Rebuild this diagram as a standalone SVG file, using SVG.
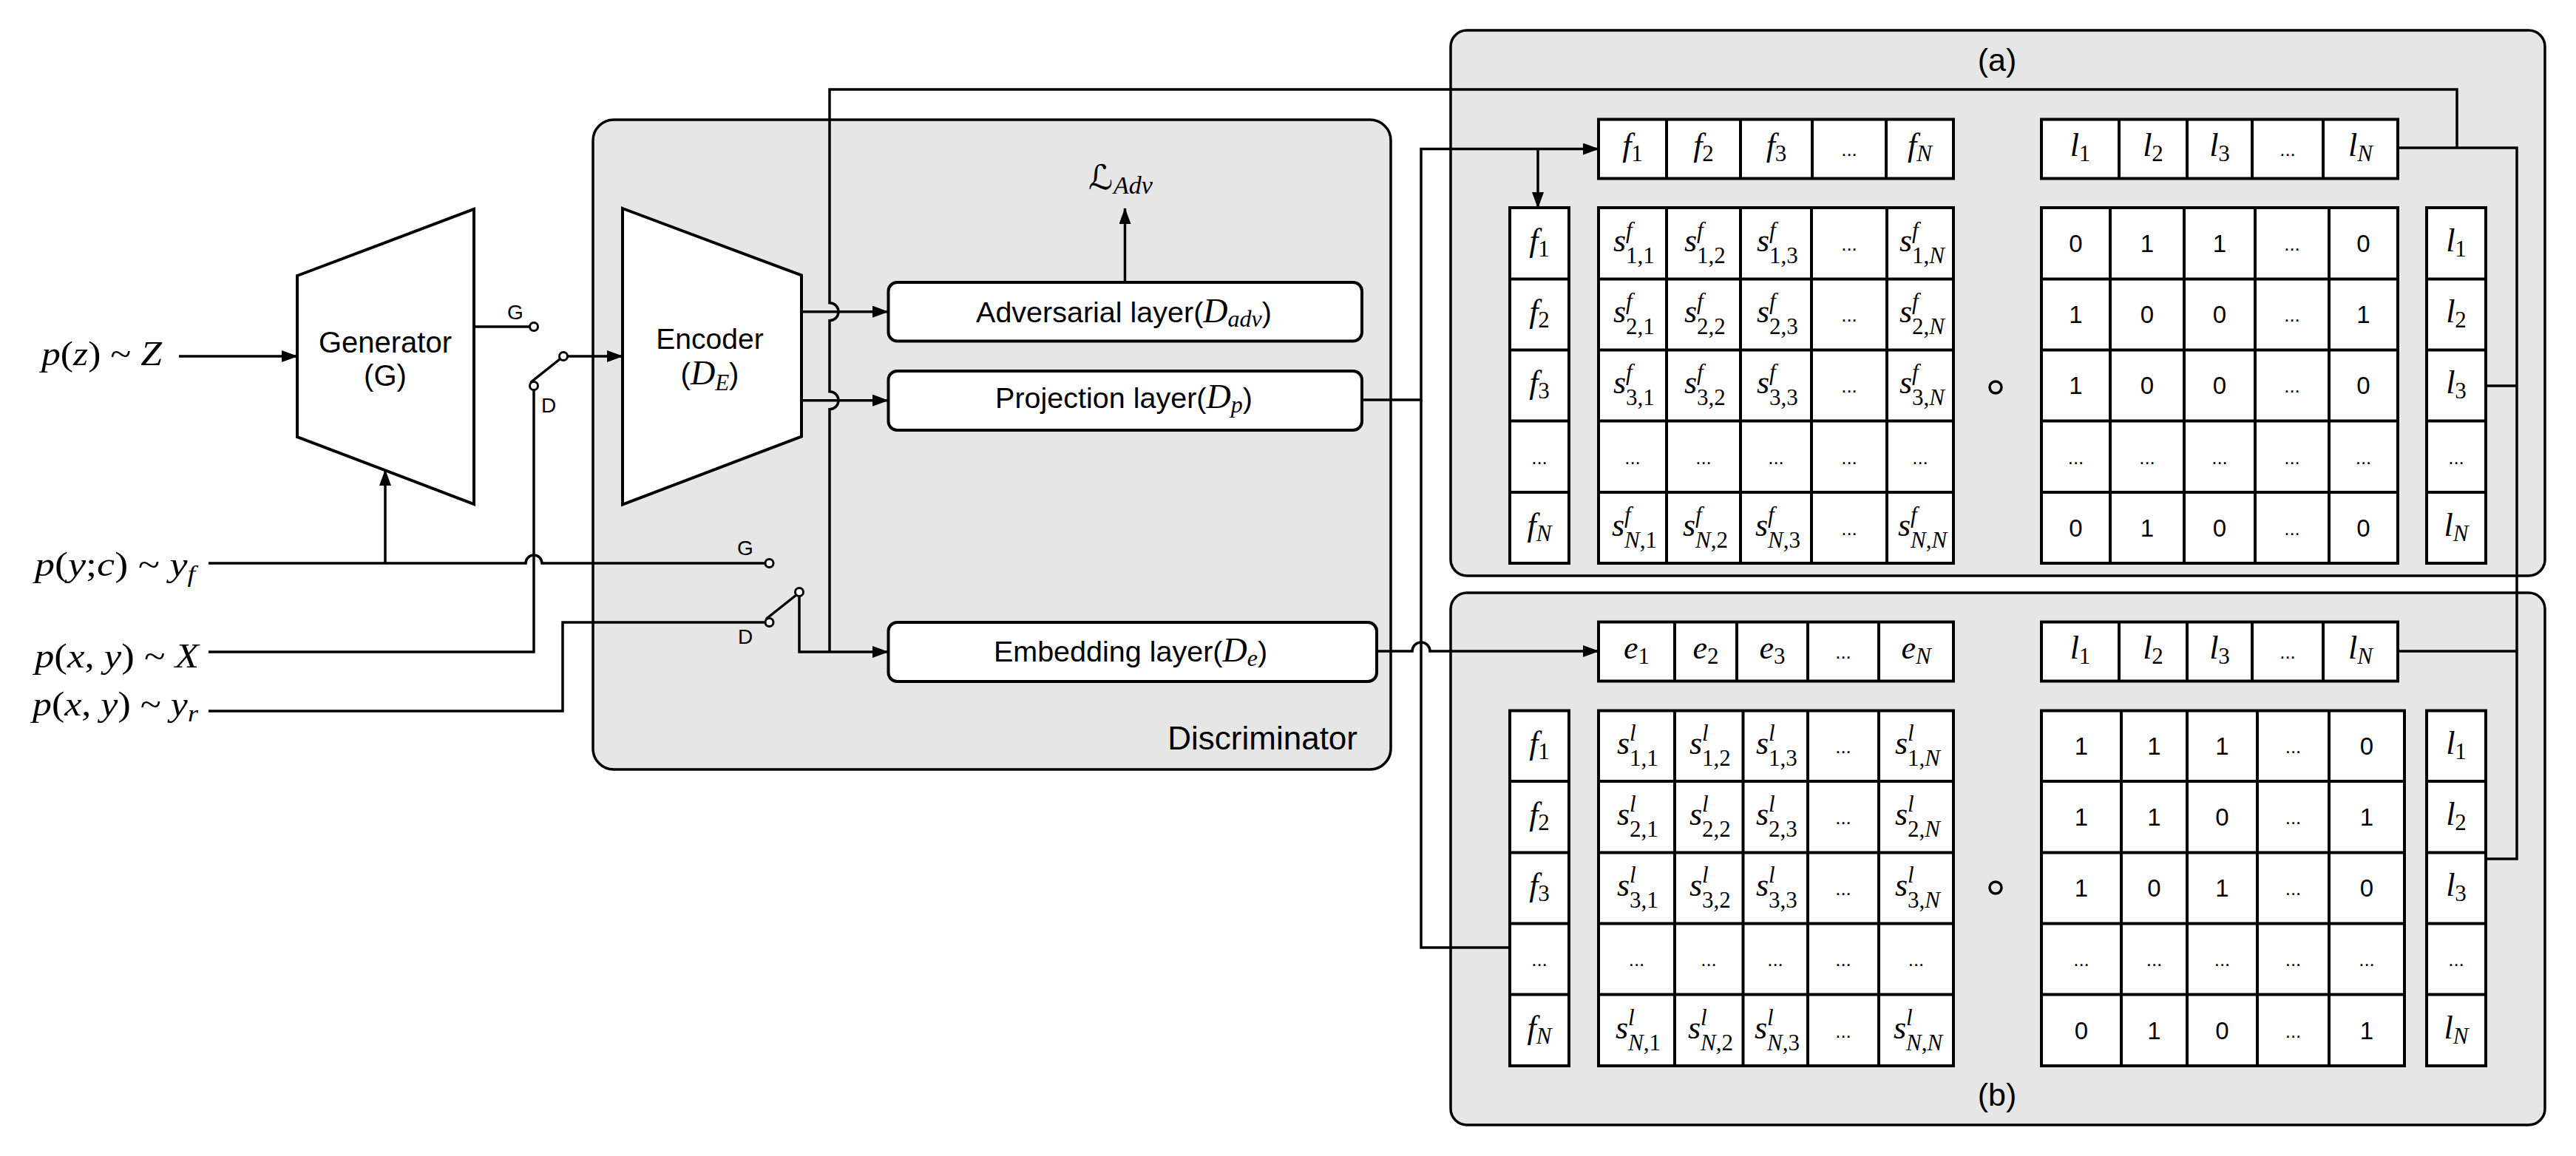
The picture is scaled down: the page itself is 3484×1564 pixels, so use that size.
<svg xmlns="http://www.w3.org/2000/svg" width="3484" height="1564" viewBox="0 0 3484 1564">
<defs>
<style>
.ln{fill:none;stroke:#000;stroke-width:3.5}
.ar{marker-end:url(#ah)}
.box{fill:#fff;stroke:#000;stroke-width:4}
.grid{fill:none;stroke:#000;stroke-width:4}
.panel{fill:#e6e6e6;stroke:#000;stroke-width:3.5}
.sw{fill:#fff;stroke:#000;stroke-width:3}
.sans{font-family:"Liberation Sans",Arial,Helvetica,sans-serif}
.cm{font-family:"Liberation Serif","DejaVu Serif",serif;font-style:italic}
.up{font-style:normal}
.c{font-size:44px}
.sb{font-size:31px}
.num{font-family:"Liberation Sans",Arial,sans-serif;font-size:33px;text-anchor:middle}
.dots{font-family:"Liberation Sans",Arial,sans-serif;font-size:26px;text-anchor:middle}
.mid{text-anchor:middle}
.lbl{font-family:"Liberation Sans",Arial,Helvetica,sans-serif;font-size:39.5px}
</style>
<marker id="ah" viewBox="0 0 22 16" markerWidth="22" markerHeight="16" refX="21" refY="8" orient="auto" markerUnits="userSpaceOnUse"><path d="M0,0 L22,8 L0,16 z" fill="#000"/></marker>
</defs>
<rect width="3484" height="1564" fill="#fff"/>

<!-- container panels -->
<g id="discriminator">
<rect class="panel" x="802" y="162" width="1079" height="879" rx="28"/>
<text class="sans" x="1836" y="1014" font-size="44" text-anchor="end">Discriminator</text>
</g>
<g id="panel-a">
<rect class="panel" x="1962" y="41" width="1480" height="738" rx="22"/>
<text class="sans mid" x="2701" y="96" font-size="43">(a)</text>
</g>
<g id="panel-b">
<rect class="panel" x="1962" y="802" width="1480" height="720" rx="22"/>
<text class="sans mid" x="2701" y="1496" font-size="43">(b)</text>
</g>

<!-- input labels -->
<g id="inputs" class="cm" font-size="46">
<text x="56" y="494" textLength="163" lengthAdjust="spacingAndGlyphs">p<tspan class="up">(</tspan>z<tspan class="up">) ~ </tspan>Z</text>
<text x="47" y="779" textLength="217" lengthAdjust="spacingAndGlyphs">p<tspan class="up">(</tspan>y<tspan class="up">;</tspan>c<tspan class="up">) ~ </tspan>y<tspan font-size="32" dy="8">f</tspan></text>
<text x="47" y="903" textLength="222" lengthAdjust="spacingAndGlyphs">p<tspan class="up">(</tspan>x<tspan class="up">, </tspan>y<tspan class="up">) ~ </tspan>X</text>
<text x="44" y="968" textLength="224" lengthAdjust="spacingAndGlyphs">p<tspan class="up">(</tspan>x<tspan class="up">, </tspan>y<tspan class="up">) ~ </tspan>y<tspan font-size="32" dy="8">r</tspan></text>
</g>

<!-- connectors -->
<g id="connectors">
<path class="ln ar" d="M242,482 H402"/>
<path class="ln" d="M282,762 H711 A11,11 0 0 1 733,762 H1035"/>
<path class="ln ar" d="M521,762 V636"/>
<path class="ln" d="M641,442 H716.5"/>
<path class="ln" d="M282,882 H722 V527.5"/>
<path class="ln" d="M717.5,517.5 L757,486"/>
<path class="ln ar" d="M767.5,482 H842"/>
<path class="ln" d="M282,962 H761 V842 H1035"/>
<path class="ln" d="M1036,837.5 L1077,805"/>
<path class="ln ar" d="M1081,806.5 V882 H1201"/>
<path class="ln" d="M1122,882 V553.7 A12,12 0 0 0 1122,529.7 V433.7 A12,12 0 0 0 1122,409.7 V121 H3323 V200"/>
<path class="ln ar" d="M1084,421.7 H1201"/>
<path class="ln ar" d="M1084,541.7 H1201"/>
<path class="ln ar" d="M1521.5,382 V282"/>
<path class="ln ar" d="M1842,541 H1922 V201.5 H2162"/>
<path class="ln ar" d="M2080,201.5 V281"/>
<path class="ln" d="M1922,541 V1282 H2042"/>
<path class="ln ar" d="M1862,881 H1910 A12,12 0 0 1 1934,881 H2162"/>
<path class="ln" d="M3243,200 H3404 V1162 H3362"/>
<path class="ln" d="M3362,522 H3404"/>
<path class="ln" d="M3243,881 H3404"/>
</g>

<!-- generator -->
<g id="generator">
<polygon class="box" points="402,373 641,283 641,682 402,591"/>
<text class="sans mid" x="521" y="477" font-size="40">Generator</text>
<text class="sans mid" x="521" y="522" font-size="40">(G)</text>
</g>

<!-- switch between generator output and real samples -->
<g id="switch-input">
<circle class="sw" cx="722" cy="442" r="5.5"/>
<circle class="sw" cx="722" cy="522" r="5.5"/>
<circle class="sw" cx="762" cy="482" r="5.5"/>
<text class="sans mid" x="697" y="432" font-size="28">G</text>
<text class="sans mid" x="742" y="558" font-size="28">D</text>
</g>

<!-- switch between fake and real labels -->
<g id="switch-label">
<circle class="sw" cx="1040.5" cy="762" r="5.5"/>
<circle class="sw" cx="1040.5" cy="842" r="5.5"/>
<circle class="sw" cx="1081" cy="801" r="5.5"/>
<text class="sans mid" x="1008" y="751" font-size="28">G</text>
<text class="sans mid" x="1008" y="871" font-size="28">D</text>
</g>

<!-- encoder -->
<g id="encoder">
<polygon class="box" points="842,282 1084,372.5 1084,590.6 842,682.5"/>
<text class="sans mid" x="960" y="472" font-size="39">Encoder</text>
<text class="mid" x="960" y="520"><tspan class="sans" font-size="40">(</tspan><tspan class="cm" font-size="46">D</tspan><tspan class="cm" font-size="31" dy="8">E</tspan><tspan class="sans" font-size="40" dy="-8">)</tspan></text>
</g>

<!-- discriminator heads -->
<g id="adversarial-layer">
<rect class="box" x="1201.5" y="382" width="640.5" height="79.5" rx="12"/>
<text class="mid" x="1520" y="436"><tspan class="lbl">Adversarial layer(</tspan><tspan class="cm" font-size="46">D</tspan><tspan class="cm" font-size="32" dy="6">adv</tspan><tspan class="lbl" dy="-6">)</tspan></text>
</g>
<g id="loss">
<text y="256"><tspan x="1472" font-size="46" font-family="DejaVu Serif, DejaVu Sans, serif" font-style="italic">ℒ</tspan><tspan class="cm" x="1506" font-size="34" dy="6">Adv</tspan></text>
</g>
<g id="projection-layer">
<rect class="box" x="1201.5" y="502" width="640.5" height="80" rx="12"/>
<text class="mid" x="1520" y="552"><tspan class="lbl">Projection layer(</tspan><tspan class="cm" font-size="46">D</tspan><tspan class="cm" font-size="32" dy="6">p</tspan><tspan class="lbl" dy="-6">)</tspan></text>
</g>
<g id="embedding-layer">
<rect class="box" x="1201.5" y="842" width="660.5" height="80" rx="12"/>
<text class="mid" x="1529" y="895"><tspan class="lbl">Embedding layer(</tspan><tspan class="cm" font-size="46">D</tspan><tspan class="cm" font-size="32" dy="6">e</tspan><tspan class="lbl" dy="-6">)</tspan></text>
</g>

<!-- (a) feature similarity -->
<g id="a-feature-row">
<rect class="box" x="2162" y="161.5" width="480" height="80"/>
<path class="grid" d="M2254,161.5V241.5M2354,161.5V241.5M2451,161.5V241.5M2551,161.5V241.5"/>
<g class="cm c mid">
<text x="2208" y="211">f<tspan class="sb up" dy="7">1</tspan></text>
<text x="2304" y="211">f<tspan class="sb up" dy="7">2</tspan></text>
<text x="2402.5" y="211">f<tspan class="sb up" dy="7">3</tspan></text>
<text x="2596.5" y="211">f<tspan class="sb" dy="7">N</tspan></text>
</g>
<text class="dots" x="2501" y="211">...</text>
</g>
<g id="a-label-row">
<rect class="box" x="2761" y="161.5" width="482" height="80"/>
<path class="grid" d="M2866,161.5V241.5M2958,161.5V241.5M3046,161.5V241.5M3142,161.5V241.5"/>
<g class="cm c mid">
<text x="2813.5" y="211">l<tspan class="sb up" dy="7">1</tspan></text>
<text x="2912" y="211">l<tspan class="sb up" dy="7">2</tspan></text>
<text x="3002" y="211">l<tspan class="sb up" dy="7">3</tspan></text>
<text x="3192.5" y="211">l<tspan class="sb" dy="7">N</tspan></text>
</g>
<text class="dots" x="3094" y="211">...</text>
</g>
<g id="a-feature-col">
<rect class="box" x="2042" y="281" width="80" height="481"/>
<path class="grid" d="M2042,377.5H2122M2042,473.5H2122M2042,569.5H2122M2042,666H2122"/>
<g class="cm c mid">
<text x="2082" y="340">f<tspan class="sb up" dy="7">1</tspan></text>
<text x="2082" y="436">f<tspan class="sb up" dy="7">2</tspan></text>
<text x="2082" y="532">f<tspan class="sb up" dy="7">3</tspan></text>
<text x="2082" y="725">f<tspan class="sb" dy="7">N</tspan></text>
</g>
<text class="dots" x="2082" y="628">...</text>
</g>
<g id="a-similarity">
<rect class="box" x="2162" y="281" width="480" height="481"/>
<path class="grid" d="M2254,281V762M2354,281V762M2450,281V762M2552,281V762M2162,377.5H2642M2162,473.5H2642M2162,569.5H2642M2162,666H2642"/>
<g class="cm c">
<text x="2182" y="340">s<tspan class="sb" x="2199" dy="-18">f</tspan><tspan class="sb up" x="2199" dy="34">1,1</tspan></text>
<text x="2278" y="340">s<tspan class="sb" x="2295" dy="-18">f</tspan><tspan class="sb up" x="2295" dy="34">1,2</tspan></text>
<text x="2376" y="340">s<tspan class="sb" x="2393" dy="-18">f</tspan><tspan class="sb up" x="2393" dy="34">1,3</tspan></text>
<text x="2569" y="340">s<tspan class="sb" x="2586" dy="-18">f</tspan><tspan class="sb" x="2586" dy="34"><tspan class="up">1,</tspan>N</tspan></text>
<text x="2182" y="436">s<tspan class="sb" x="2199" dy="-18">f</tspan><tspan class="sb up" x="2199" dy="34">2,1</tspan></text>
<text x="2278" y="436">s<tspan class="sb" x="2295" dy="-18">f</tspan><tspan class="sb up" x="2295" dy="34">2,2</tspan></text>
<text x="2376" y="436">s<tspan class="sb" x="2393" dy="-18">f</tspan><tspan class="sb up" x="2393" dy="34">2,3</tspan></text>
<text x="2569" y="436">s<tspan class="sb" x="2586" dy="-18">f</tspan><tspan class="sb" x="2586" dy="34"><tspan class="up">2,</tspan>N</tspan></text>
<text x="2182" y="532">s<tspan class="sb" x="2199" dy="-18">f</tspan><tspan class="sb up" x="2199" dy="34">3,1</tspan></text>
<text x="2278" y="532">s<tspan class="sb" x="2295" dy="-18">f</tspan><tspan class="sb up" x="2295" dy="34">3,2</tspan></text>
<text x="2376" y="532">s<tspan class="sb" x="2393" dy="-18">f</tspan><tspan class="sb up" x="2393" dy="34">3,3</tspan></text>
<text x="2569" y="532">s<tspan class="sb" x="2586" dy="-18">f</tspan><tspan class="sb" x="2586" dy="34"><tspan class="up">3,</tspan>N</tspan></text>
<text x="2180" y="725">s<tspan class="sb" x="2197" dy="-18">f</tspan><tspan class="sb" x="2197" dy="34">N<tspan class="up">,1</tspan></tspan></text>
<text x="2276" y="725">s<tspan class="sb" x="2293" dy="-18">f</tspan><tspan class="sb" x="2293" dy="34">N<tspan class="up">,2</tspan></tspan></text>
<text x="2374" y="725">s<tspan class="sb" x="2391" dy="-18">f</tspan><tspan class="sb" x="2391" dy="34">N<tspan class="up">,3</tspan></tspan></text>
<text x="2567" y="725">s<tspan class="sb" x="2584" dy="-18">f</tspan><tspan class="sb" x="2584" dy="34">N<tspan class="up">,</tspan>N</tspan></text>
</g>
<g class="dots">
<text x="2501" y="339">...</text><text x="2501" y="435">...</text><text x="2501" y="531">...</text><text x="2501" y="724">...</text>
<text x="2208" y="628">...</text><text x="2304" y="628">...</text><text x="2402" y="628">...</text><text x="2501" y="628">...</text><text x="2597" y="628">...</text>
</g>
</g>
<circle id="a-hadamard" cx="2699" cy="524" r="8" fill="none" stroke="#000" stroke-width="3.5"/>
<g id="a-mask">
<rect class="box" x="2761" y="281" width="482" height="481"/>
<path class="grid" d="M2854,281V762M2954,281V762M3050,281V762M3150,281V762M2761,377.5H3243M2761,473.5H3243M2761,569.5H3243M2761,666H3243"/>
<g class="num">
<text x="2807.5" y="341">0</text><text x="2904" y="341">1</text><text x="3002" y="341">1</text><text x="3196.5" y="341">0</text>
<text x="2807.5" y="437">1</text><text x="2904" y="437">0</text><text x="3002" y="437">0</text><text x="3196.5" y="437">1</text>
<text x="2807.5" y="533">1</text><text x="2904" y="533">0</text><text x="3002" y="533">0</text><text x="3196.5" y="533">0</text>
<text x="2807.5" y="726">0</text><text x="2904" y="726">1</text><text x="3002" y="726">0</text><text x="3196.5" y="726">0</text>
</g>
<g class="dots">
<text x="3100" y="339">...</text><text x="3100" y="435">...</text><text x="3100" y="531">...</text><text x="3100" y="724">...</text>
<text x="2807.5" y="628">...</text><text x="2904" y="628">...</text><text x="3002" y="628">...</text><text x="3100" y="628">...</text><text x="3196.5" y="628">...</text>
</g>
</g>
<g id="a-label-col">
<rect class="box" x="3282" y="281" width="80" height="481"/>
<path class="grid" d="M3282,377.5H3362M3282,473.5H3362M3282,569.5H3362M3282,666H3362"/>
<g class="cm c mid">
<text x="3322" y="340">l<tspan class="sb up" dy="7">1</tspan></text>
<text x="3322" y="436">l<tspan class="sb up" dy="7">2</tspan></text>
<text x="3322" y="532">l<tspan class="sb up" dy="7">3</tspan></text>
<text x="3322" y="725">l<tspan class="sb" dy="7">N</tspan></text>
</g>
<text class="dots" x="3322" y="628">...</text>
</g>

<!-- (b) label similarity -->
<g id="b-embedding-row">
<rect class="box" x="2162" y="841.5" width="480" height="80"/>
<path class="grid" d="M2265,841.5V921.5M2349,841.5V921.5M2445,841.5V921.5M2541,841.5V921.5"/>
<g class="cm c mid">
<text x="2213.5" y="891">e<tspan class="sb up" dy="7">1</tspan></text>
<text x="2307" y="891">e<tspan class="sb up" dy="7">2</tspan></text>
<text x="2397" y="891">e<tspan class="sb up" dy="7">3</tspan></text>
<text x="2591.5" y="891">e<tspan class="sb" dy="7">N</tspan></text>
</g>
<text class="dots" x="2493" y="891">...</text>
</g>
<g id="b-label-row">
<rect class="box" x="2761" y="841.5" width="482" height="80"/>
<path class="grid" d="M2866,841.5V921.5M2958,841.5V921.5M3046,841.5V921.5M3142,841.5V921.5"/>
<g class="cm c mid">
<text x="2813.5" y="891">l<tspan class="sb up" dy="7">1</tspan></text>
<text x="2912" y="891">l<tspan class="sb up" dy="7">2</tspan></text>
<text x="3002" y="891">l<tspan class="sb up" dy="7">3</tspan></text>
<text x="3192.5" y="891">l<tspan class="sb" dy="7">N</tspan></text>
</g>
<text class="dots" x="3094" y="891">...</text>
</g>
<g id="b-feature-col">
<rect class="box" x="2042" y="961.5" width="80" height="480.5"/>
<path class="grid" d="M2042,1057H2122M2042,1153.5H2122M2042,1249.5H2122M2042,1345.5H2122"/>
<g class="cm c mid">
<text x="2082" y="1020">f<tspan class="sb up" dy="7">1</tspan></text>
<text x="2082" y="1116">f<tspan class="sb up" dy="7">2</tspan></text>
<text x="2082" y="1212">f<tspan class="sb up" dy="7">3</tspan></text>
<text x="2082" y="1405">f<tspan class="sb" dy="7">N</tspan></text>
</g>
<text class="dots" x="2082" y="1307">...</text>
</g>
<g id="b-similarity">
<rect class="box" x="2162" y="961.5" width="480" height="480.5"/>
<path class="grid" d="M2265,961.5V1442M2357.5,961.5V1442M2445,961.5V1442M2541,961.5V1442M2162,1057H2642M2162,1153.5H2642M2162,1249.5H2642M2162,1345.5H2642"/>
<g class="cm c">
<text x="2187" y="1020">s<tspan class="sb" x="2204" dy="-18">l</tspan><tspan class="sb up" x="2204" dy="34">1,1</tspan></text>
<text x="2285" y="1020">s<tspan class="sb" x="2302" dy="-18">l</tspan><tspan class="sb up" x="2302" dy="34">1,2</tspan></text>
<text x="2375" y="1020">s<tspan class="sb" x="2392" dy="-18">l</tspan><tspan class="sb up" x="2392" dy="34">1,3</tspan></text>
<text x="2563" y="1020">s<tspan class="sb" x="2580" dy="-18">l</tspan><tspan class="sb" x="2580" dy="34"><tspan class="up">1,</tspan>N</tspan></text>
<text x="2187" y="1116">s<tspan class="sb" x="2204" dy="-18">l</tspan><tspan class="sb up" x="2204" dy="34">2,1</tspan></text>
<text x="2285" y="1116">s<tspan class="sb" x="2302" dy="-18">l</tspan><tspan class="sb up" x="2302" dy="34">2,2</tspan></text>
<text x="2375" y="1116">s<tspan class="sb" x="2392" dy="-18">l</tspan><tspan class="sb up" x="2392" dy="34">2,3</tspan></text>
<text x="2563" y="1116">s<tspan class="sb" x="2580" dy="-18">l</tspan><tspan class="sb" x="2580" dy="34"><tspan class="up">2,</tspan>N</tspan></text>
<text x="2187" y="1212">s<tspan class="sb" x="2204" dy="-18">l</tspan><tspan class="sb up" x="2204" dy="34">3,1</tspan></text>
<text x="2285" y="1212">s<tspan class="sb" x="2302" dy="-18">l</tspan><tspan class="sb up" x="2302" dy="34">3,2</tspan></text>
<text x="2375" y="1212">s<tspan class="sb" x="2392" dy="-18">l</tspan><tspan class="sb up" x="2392" dy="34">3,3</tspan></text>
<text x="2563" y="1212">s<tspan class="sb" x="2580" dy="-18">l</tspan><tspan class="sb" x="2580" dy="34"><tspan class="up">3,</tspan>N</tspan></text>
<text x="2185" y="1405">s<tspan class="sb" x="2202" dy="-18">l</tspan><tspan class="sb" x="2202" dy="34">N<tspan class="up">,1</tspan></tspan></text>
<text x="2283" y="1405">s<tspan class="sb" x="2300" dy="-18">l</tspan><tspan class="sb" x="2300" dy="34">N<tspan class="up">,2</tspan></tspan></text>
<text x="2373" y="1405">s<tspan class="sb" x="2390" dy="-18">l</tspan><tspan class="sb" x="2390" dy="34">N<tspan class="up">,3</tspan></tspan></text>
<text x="2561" y="1405">s<tspan class="sb" x="2578" dy="-18">l</tspan><tspan class="sb" x="2578" dy="34">N<tspan class="up">,</tspan>N</tspan></text>
</g>
<g class="dots">
<text x="2493" y="1019">...</text><text x="2493" y="1115">...</text><text x="2493" y="1211">...</text><text x="2493" y="1404">...</text>
<text x="2213.5" y="1307">...</text><text x="2311" y="1307">...</text><text x="2401" y="1307">...</text><text x="2493" y="1307">...</text><text x="2591.5" y="1307">...</text>
</g>
</g>
<circle id="b-hadamard" cx="2699" cy="1201" r="8" fill="none" stroke="#000" stroke-width="3.5"/>
<g id="b-mask">
<rect class="box" x="2761" y="961.5" width="491" height="480.5"/>
<path class="grid" d="M2869,961.5V1442M2958,961.5V1442M3053,961.5V1442M3150,961.5V1442M2761,1057H3252M2761,1153.5H3252M2761,1249.5H3252M2761,1345.5H3252"/>
<g class="num">
<text x="2815" y="1021">1</text><text x="2913.5" y="1021">1</text><text x="3005.5" y="1021">1</text><text x="3201" y="1021">0</text>
<text x="2815" y="1117">1</text><text x="2913.5" y="1117">1</text><text x="3005.5" y="1117">0</text><text x="3201" y="1117">1</text>
<text x="2815" y="1213">1</text><text x="2913.5" y="1213">0</text><text x="3005.5" y="1213">1</text><text x="3201" y="1213">0</text>
<text x="2815" y="1406">0</text><text x="2913.5" y="1406">1</text><text x="3005.5" y="1406">0</text><text x="3201" y="1406">1</text>
</g>
<g class="dots">
<text x="3101.5" y="1019">...</text><text x="3101.5" y="1115">...</text><text x="3101.5" y="1211">...</text><text x="3101.5" y="1404">...</text>
<text x="2815" y="1307">...</text><text x="2913.5" y="1307">...</text><text x="3005.5" y="1307">...</text><text x="3101.5" y="1307">...</text><text x="3201" y="1307">...</text>
</g>
</g>
<g id="b-label-col">
<rect class="box" x="3282" y="961.5" width="80" height="480.5"/>
<path class="grid" d="M3282,1057H3362M3282,1153.5H3362M3282,1249.5H3362M3282,1345.5H3362"/>
<g class="cm c mid">
<text x="3322" y="1020">l<tspan class="sb up" dy="7">1</tspan></text>
<text x="3322" y="1116">l<tspan class="sb up" dy="7">2</tspan></text>
<text x="3322" y="1212">l<tspan class="sb up" dy="7">3</tspan></text>
<text x="3322" y="1405">l<tspan class="sb" dy="7">N</tspan></text>
</g>
<text class="dots" x="3322" y="1307">...</text>
</g>
</svg>
